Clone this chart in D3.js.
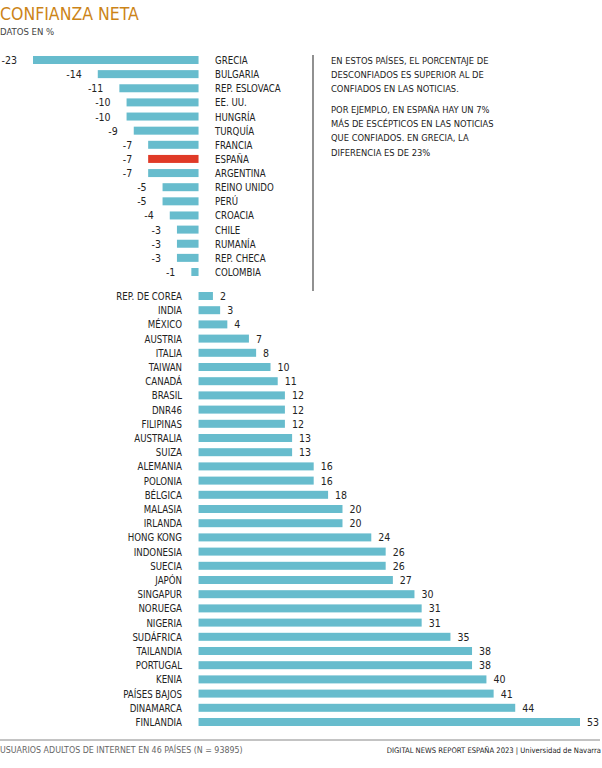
<!DOCTYPE html>
<html>
<head>
<meta charset="utf-8">
<script src="https://cdn.jsdelivr.net/npm/d3@7"></script>
<style>
  html, body { margin: 0; padding: 0; background: #fff; }
  svg { display: block; }
  text { font-family: "Liberation Sans Narrow", "DejaVu Sans Condensed", "Roboto", sans-serif; }
</style>
</head>
<body>
<svg id="chart" width="602" height="768"></svg>
<script>
// ---- Data ----
const negCountries = ["GRECIA","BULGARIA","REP. ESLOVACA","EE. UU.","HUNGRÍA","TURQUÍA","FRANCIA","ESPAÑA","ARGENTINA","REINO UNIDO","PERÚ","CROACIA","CHILE","RUMANÍA","REP. CHECA","COLOMBIA"];
const negValues = [-23,-14,-11,-10,-10,-9,-7,-7,-7,-5,-5,-4,-3,-3,-3,-1];

const posCountries = ["REP. DE COREA","INDIA","MÉXICO","AUSTRIA","ITALIA","TAIWAN","CANADÁ","BRASIL","DNR46","FILIPINAS","AUSTRALIA","SUIZA","ALEMANIA","POLONIA","BÉLGICA","MALASIA","IRLANDA","HONG KONG","INDONESIA","SUECIA","JAPÓN","SINGAPUR","NORUEGA","NIGERIA","SUDÁFRICA","TAILANDIA","PORTUGAL","KENIA","PAÍSES BAJOS","DINAMARCA","FINLANDIA"];
const posValues = [2,3,4,7,8,10,11,12,12,12,13,13,16,16,18,20,20,24,26,26,27,30,31,31,35,38,38,40,41,44,53];

const highlight = "ESPAÑA";
const titleText = "CONFIANZA NETA";
const subtitleText = "DATOS EN %";
const noteLines1 = ["EN ESTOS PAÍSES, EL PORCENTAJE DE","DESCONFIADOS ES SUPERIOR AL DE","CONFIADOS EN LAS NOTICIAS."];
const noteLines2 = ["POR EJEMPLO, EN ESPAÑA HAY UN 7%","MÁS DE ESCÉPTICOS EN LAS NOTICIAS","QUE CONFIADOS.  EN GRECIA, LA","DIFERENCIA ES DE 23%"];
const footerLeft = "USUARIOS ADULTOS DE INTERNET EN 46 PAÍSES (N = 93895)";
const footerRight = "DIGITAL NEWS REPORT ESPAÑA 2023 | Universidad de Navarra";

// ---- Styles ----
const barColor = "#67bccd";
const hiColor = "#e03a27";
const textColor = "#222";
const barH = 8;

const svg = d3.select("#chart");

// ---- Scales ----
const x = d3.scaleLinear().domain([-23, 53]).range([33, 580]);
const yNeg = d3.scalePoint().domain(negCountries).range([60, 272]);
const yPos = d3.scalePoint().domain(posCountries).range([296, 722]);

const negData = negCountries.map((c, i) => ({ c, v: negValues[i] }));
const posData = posCountries.map((c, i) => ({ c, v: posValues[i] }));

// ---- Title ----
svg.append("text").attr("x", 0).attr("y", 20)
  .attr("font-size", 17.5).attr("fill", "#cc8418").text(titleText);
svg.append("text").attr("x", 0).attr("y", 35)
  .attr("font-size", 9.5).attr("fill", "#444").text(subtitleText);

// ---- Negative group ----
const gNeg = svg.append("g");
gNeg.selectAll("rect").data(negData).join("rect")
  .attr("x", d => x(d.v)).attr("width", d => x(0) - x(d.v))
  .attr("y", d => yNeg(d.c) - barH / 2).attr("height", barH)
  .attr("fill", d => d.c === highlight ? hiColor : barColor);
gNeg.selectAll("text.val").data(negData).join("text").attr("class", "val")
  .attr("x", d => x(d.v) - 16).attr("y", d => yNeg(d.c) + 4)
  .attr("text-anchor", "end").attr("font-size", 10.5).attr("fill", textColor)
  .text(d => d.v);
gNeg.selectAll("text.lab").data(negData).join("text").attr("class", "lab")
  .attr("x", 215).attr("y", d => yNeg(d.c) + 4)
  .attr("font-size", 9.6).attr("fill", textColor)
  .text(d => d.c);

// ---- Positive group ----
const gPos = svg.append("g");
gPos.selectAll("rect").data(posData).join("rect")
  .attr("x", x(0)).attr("width", d => x(d.v) - x(0))
  .attr("y", d => yPos(d.c) - barH / 2).attr("height", barH)
  .attr("fill", d => d.c === highlight ? hiColor : barColor);
gPos.selectAll("text.val").data(posData).join("text").attr("class", "val")
  .attr("x", d => x(d.v) + 7).attr("y", d => yPos(d.c) + 4)
  .attr("font-size", 10.5).attr("fill", textColor)
  .text(d => d.v);
gPos.selectAll("text.lab").data(posData).join("text").attr("class", "lab")
  .attr("x", 182).attr("y", d => yPos(d.c) + 4)
  .attr("text-anchor", "end").attr("font-size", 9.6).attr("fill", textColor)
  .text(d => d.c);

// ---- Annotation ----
svg.append("line").attr("x1", 313).attr("x2", 313).attr("y1", 55).attr("y2", 291)
  .attr("stroke", "#555").attr("stroke-width", 1.3);
const note = svg.append("g").attr("font-size", 9.3).attr("fill", textColor);
noteLines1.forEach((t, i) => note.append("text").attr("x", 331).attr("y", 64 + i * 14.2).text(t));
noteLines2.forEach((t, i) => note.append("text").attr("x", 331).attr("y", 113 + i * 14.2).text(t));

// ---- Footer ----
svg.append("line").attr("x1", 0).attr("x2", 600).attr("y1", 740).attr("y2", 740)
  .attr("stroke", "#888").attr("stroke-width", 1);
svg.append("text").attr("x", 0).attr("y", 753).attr("font-size", 8.8)
  .attr("fill", "#666").text(footerLeft);
svg.append("text").attr("x", 601).attr("y", 753).attr("font-size", 7.6)
  .attr("text-anchor", "end").attr("fill", "#222").text(footerRight);
</script>
</body>
</html>
